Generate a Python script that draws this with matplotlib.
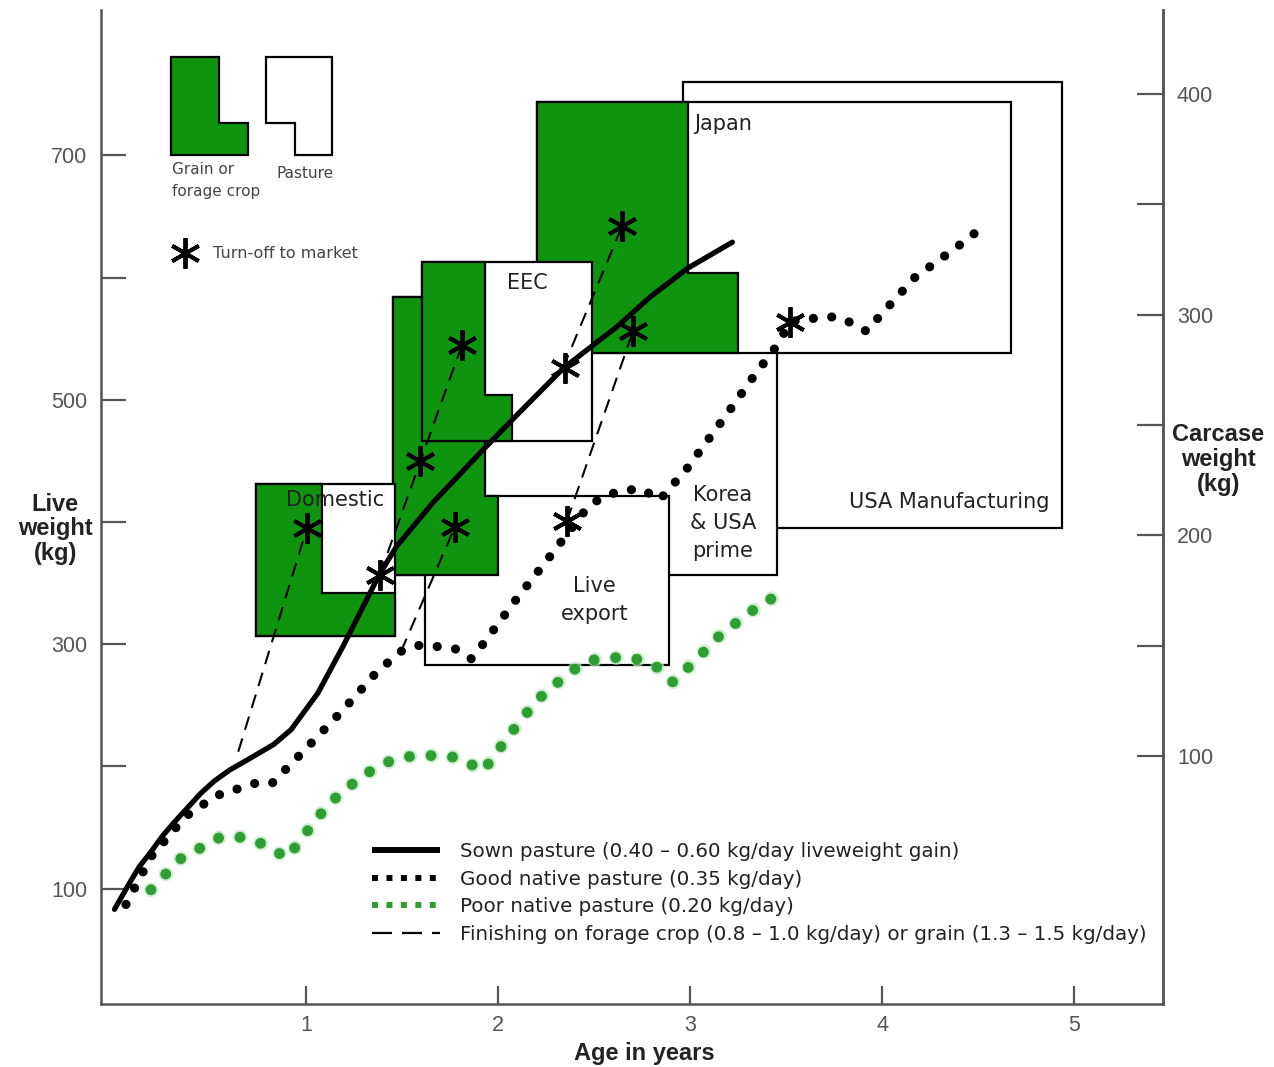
import matplotlib.pyplot as plt
from matplotlib.patches import Polygon, Rectangle
from matplotlib.lines import Line2D

# ---- values (age in years, live weight in kg) ----
sown_age = [0.0, 0.04, 0.08, 0.13, 0.19, 0.25, 0.31, 0.38, 0.45, 0.52, 0.60, 0.70,
            0.83, 0.92, 1.06, 1.19, 1.38, 1.47, 1.66, 1.92, 2.10, 2.34, 2.62, 2.79,
            2.99, 3.22]
sown_wt = [83, 94, 105, 118, 130, 143, 154, 166, 178, 188, 197, 206,
           218, 230, 260, 298, 357, 380, 416, 459, 488, 526, 560, 584,
           608, 629]

good_age = [0.06, 0.19, 0.37, 0.53, 0.73, 0.82, 0.97, 1.19, 1.36, 1.49, 1.58, 1.69,
            1.78, 1.86, 1.92, 2.10, 2.28, 2.47, 2.55, 2.65, 2.75, 2.84, 2.98, 3.19,
            3.33, 3.46, 3.52, 3.66, 3.76, 3.84, 3.92, 3.99, 4.17, 4.39, 4.48]
good_wt = [87, 126, 159, 176, 186, 186, 210, 246, 276, 294, 299, 298,
           296, 288, 300, 338, 374, 413, 421, 426, 427, 418, 443, 488,
           519, 546, 564, 567, 568, 563, 556, 569, 600, 625, 636]

poor_age = [0.19, 0.34, 0.55, 0.67, 0.78, 0.90, 0.98, 1.12, 1.29, 1.41, 1.53, 1.68,
            1.80, 1.92, 2.06, 2.20, 2.38, 2.49, 2.60, 2.70, 2.82, 2.91, 2.99, 3.16,
            3.38, 3.49]
poor_wt = [99, 124, 142, 142, 136, 125, 142, 170, 192, 203, 208, 209,
           207, 196, 226, 254, 278, 287, 289, 289, 282, 269, 281, 308,
           334, 342]

# finishing on forage crop / grain: start and end of each run
finish_age0 = [0.645, 1.383, 1.493, 2.337, 2.358]
finish_wt0 = [212, 357, 294, 526, 401]
finish_age1 = [1.003, 1.811, 1.774, 2.645, 2.702]
finish_wt1 = [395, 545, 396, 642, 556]

# turn-off to market points
turnoff_age = [1.003, 1.383, 1.592, 1.811, 1.774, 2.348, 2.645, 2.702, 2.358, 3.520]
turnoff_wt = [395, 357, 450, 545, 396, 526, 642, 556, 401, 564]

# market boxes (drawing order matters: later ones sit on top)
markets = ['USA Manufacturing', 'Korea\n& USA\nprime', 'Japan', 'Live\nexport', 'EEC', 'Domestic']
box_age0 = [2.96, 1.45, 2.20, 1.62, 1.60, 0.74]
box_age1 = [4.94, 3.45, 4.67, 2.89, 2.49, 1.46]
box_wt0 = [395, 357, 538, 283, 466, 307]
box_wt1 = [760, 584, 744, 421, 613, 431]
grain_age1 = [None, 1.93, 2.99, None, 1.93, 1.08]
grain_foot_age1 = [None, 2.00, 3.25, None, 2.07, 1.46]
grain_foot_wt1 = [None, 421, 604, None, 504, 342]
label_age = [4.35, 3.17, 3.17, 2.50, 2.15, 1.15]
label_wt = [416, 399, 726, 336, 596, 418]

carcase_ticks = [100, 200, 300, 400]
carcase_minor = [150, 250, 350]
live_major = [100, 300, 500, 700]
live_minor = [200, 400, 600]
age_ticks = [1, 2, 3, 4, 5]

legend_labels = ['Sown pasture (0.40 \u2013 0.60 kg/day liveweight gain)',
                 'Good native pasture (0.35 kg/day)',
                 'Poor native pasture (0.20 kg/day)',
                 'Finishing on forage crop (0.8 \u2013 1.0 kg/day) or grain (1.3 \u2013 1.5 kg/day)']


def carcase(w):
    return 0.5536 * w - 15.4


green = '#0f940f'
poor_green = '#2f9e32'
grey = '#555555'
plt.rcParams['font.family'] = ['Liberation Sans', 'DejaVu Sans']
label_font = ['DejaVu Sans']

fig = plt.figure(figsize=(12.74, 10.67), dpi=100)
ax = fig.add_axes([0.0793, 0.0590, 0.8336, 0.9316])
ax.set_xlim(-0.070, 5.464)
ax.set_ylim(5.5, 819)

# market boxes with grain / forage crop part
box_z = [1, 2, 3, 4, 6, 7]
grain_z = [None, 5, 3.1, None, 6.1, 7.1]
for i, name in enumerate(markets):
    x0, x1, y0, y1 = box_age0[i], box_age1[i], box_wt0[i], box_wt1[i]
    ax.add_patch(Rectangle((x0, y0), x1 - x0, y1 - y0, fc='white', ec='black',
                           lw=1.6, zorder=box_z[i]))
    if grain_age1[i] is not None:
        xs, xf, yf = grain_age1[i], grain_foot_age1[i], grain_foot_wt1[i]
        pts = [(x0, y0), (xf, y0), (xf, yf), (xs, yf), (xs, y1), (x0, y1)]
        ax.add_patch(Polygon(pts, closed=True, fc=green, ec='black', lw=1.6,
                             zorder=grain_z[i]))
    ax.text(label_age[i], label_wt[i], name, ha='center', va='center', fontsize=15,
            family=label_font, color='#222222', linespacing=1.5, zorder=8)

# growth curves
ax.plot(sown_age, sown_wt, color='black', lw=3.8, solid_capstyle='round',
        solid_joinstyle='round', zorder=10)
ax.plot(poor_age, poor_wt, color='#bfe8bf', lw=10.5, linestyle=(0, (0.01, 1.47)),
        dash_capstyle='round', alpha=0.7, zorder=9.5)
ax.plot(poor_age, poor_wt, color=poor_green, lw=7.8, linestyle=(0, (0.01, 1.98)),
        dash_capstyle='round', zorder=10)
ax.plot(good_age, good_wt, color='black', lw=6.6, linestyle=(0, (0.01, 2.0)),
        dash_capstyle='round', zorder=10)
for a0, w0, a1, w1 in zip(finish_age0, finish_wt0, finish_age1, finish_wt1):
    ax.plot([a0, a1], [w0, w1], color='black', lw=1.5, linestyle=(0, (6.7, 4.3)), zorder=9)
ax.plot(turnoff_age, turnoff_wt, linestyle='none', marker=(6, 2, 0), ms=22, mew=2.8,
        color='black', zorder=11)

# axes styling
for side in ['left', 'bottom', 'right']:
    ax.spines[side].set_color(grey)
    ax.spines[side].set_linewidth(1.8)
ax.spines['top'].set_visible(False)
ax.set_xticks(age_ticks)
ax.set_yticks(live_major)
ax.set_yticks(live_minor, minor=True)
ax.tick_params(axis='x', direction='in', length=13, width=1.6, color=grey,
               labelcolor=grey, labelsize=15.5, pad=8)
ax.tick_params(axis='y', which='both', direction='in', length=18, width=1.6, color=grey,
               labelcolor=grey, labelsize=15.5, pad=10)

ax2 = ax.twinx()
ax2.set_ylim(carcase(5.5), carcase(819))
ax2.set_yticks(carcase_ticks)
ax2.set_yticks(carcase_minor, minor=True)
for side in ['left', 'bottom', 'top']:
    ax2.spines[side].set_visible(False)
ax2.spines['right'].set_color(grey)
ax2.spines['right'].set_linewidth(1.8)
ax2.tick_params(axis='y', which='both', direction='in', length=19, width=1.6, color=grey,
                labelcolor=grey, labelsize=15.5, pad=10)

ax.set_xlabel('Age in years', fontsize=17, fontweight='bold', color='#222222', va='center')
ax.xaxis.set_label_coords(0.512, -0.050)
ax.set_ylabel('Live\nweight\n(kg)', fontsize=17, fontweight='bold', color='#222222',
              rotation=0, ha='center', va='center', linespacing=1.1)
ax.yaxis.set_label_coords(-0.043, 0.478)
ax2.set_ylabel('Carcase\nweight\n(kg)', fontsize=17, fontweight='bold', color='#222222',
               rotation=0, ha='center', va='center', linespacing=1.1)
ax2.yaxis.set_label_coords(1.052, 0.548)

# key in the top-left corner (axes fractions)
tr = ax.transAxes
ax.add_patch(Polygon([(0.0656, 0.854), (0.1381, 0.854), (0.1381, 0.886), (0.1114, 0.886),
                      (0.1114, 0.953), (0.0656, 0.953)], closed=True, fc=green, ec='black',
                     lw=1.6, transform=tr, zorder=12))
ax.add_patch(Polygon([(0.1554, 0.886), (0.1827, 0.886), (0.1827, 0.854), (0.2178, 0.854),
                      (0.2178, 0.953), (0.1554, 0.953)], closed=True, fc='white', ec='black',
                     lw=1.6, transform=tr, zorder=12))
ax.text(0.0669, 0.847, 'Grain or\nforage crop', transform=tr, ha='left', va='top',
        fontsize=11, color='#444444', family=label_font, linespacing=1.55)
ax.text(0.1648, 0.836, 'Pasture', transform=tr, ha='left', va='center',
        fontsize=11, color='#444444', family=label_font)
ax.plot([0.0791], [0.7555], transform=tr, marker=(6, 2, 0), ms=22, mew=2.8,
        color='black', linestyle='none', zorder=12)
ax.text(0.1055, 0.7555, 'Turn-off to market', transform=tr, ha='left', va='center',
        fontsize=11.5, color='#444444', family=label_font)

# line key
handles = [Line2D([], [], color='black', lw=4.3, solid_capstyle='butt'),
           Line2D([], [], color='black', lw=4.3, linestyle=(0, (1, 1.42))),
           Line2D([], [], color=poor_green, lw=4.3, linestyle=(0, (1, 1.42))),
           Line2D([], [], color='black', lw=1.6, linestyle=(0, (9, 4.5)))]
leg = ax.legend(handles, legend_labels, loc='upper left', bbox_to_anchor=(0.255, 0.163),
                frameon=False, borderpad=0, borderaxespad=0, handlelength=3.43,
                handletextpad=1.0, labelspacing=0.43,
                prop={'family': label_font, 'size': 14.3})
for t in leg.get_texts():
    t.set_color('#222222')

fig.savefig('out.png', dpi=100)
